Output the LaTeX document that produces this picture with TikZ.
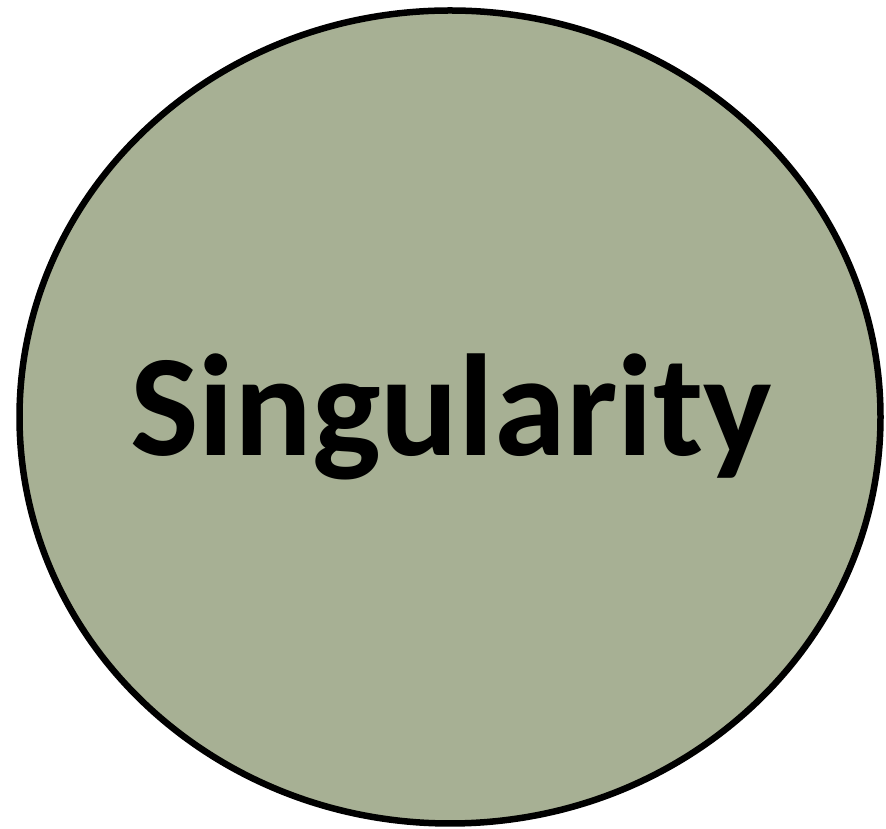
\documentclass[tikz,border=0pt]{standalone}
\usepackage{fontspec}
\setmainfont{Carlito}
\usetikzlibrary{shapes.geometric}
\definecolor{sagegreen}{RGB}{167,176,148}

\begin{document}
\begin{tikzpicture}[
		x=1pt, y=1pt,
		blob/.style={
			ellipse,
			draw=black,
			fill=sagegreen,
			line width=6.5pt,
			inner sep=0pt,
			minimum width=861pt,
			minimum height=813pt
		},
		label text/.style={
			font=\fontsize{145}{145}\selectfont\bfseries
		}
	]

	\useasboundingbox (0,0) rectangle (886,829);

	\node[blob] (singularity) at (450,412) {};

	\node[label text, anchor=base] (name) at (451,373) {Singularity};

\end{tikzpicture}
\end{document}
